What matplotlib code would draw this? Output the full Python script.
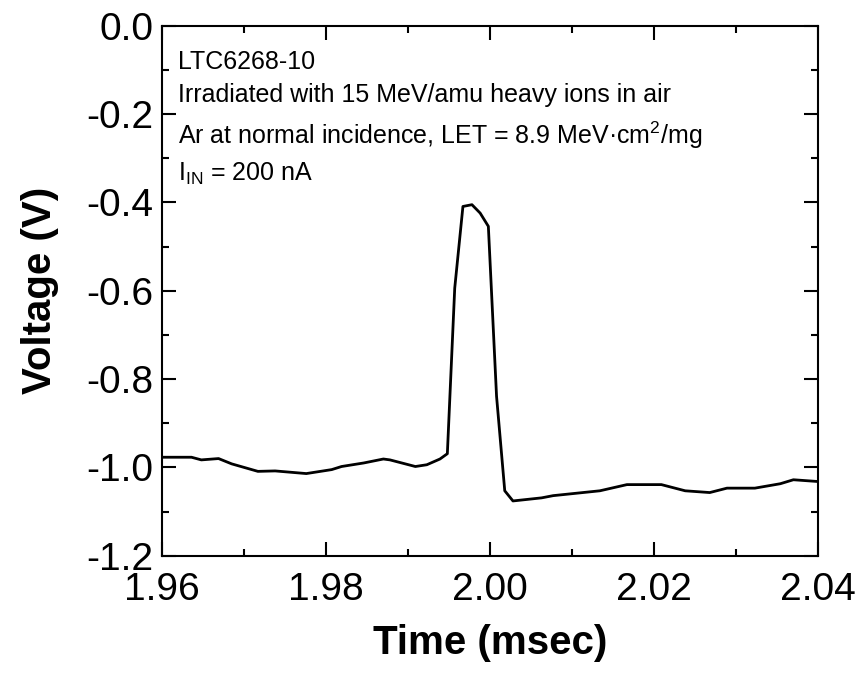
import matplotlib.pyplot as plt
from matplotlib.ticker import MultipleLocator, FormatStrFormatter

plt.rcParams['font.family'] = ['Liberation Sans', 'DejaVu Sans']
plt.rcParams['mathtext.fontset'] = 'custom'
plt.rcParams['mathtext.rm'] = 'Liberation Sans'

# transient trace
time_ms = [1.9600, 1.9636, 1.9648, 1.9669, 1.9685, 1.9717, 1.9738, 1.9776,
           1.9807, 1.9819, 1.9846, 1.9870, 1.9878, 1.9909, 1.9923, 1.9939,
           1.9948, 1.9957, 1.9967, 1.9978, 1.9988, 1.9998, 2.0008, 2.0018,
           2.0028, 2.0063, 2.0077, 2.0134, 2.0167, 2.0209, 2.0238, 2.0268,
           2.0289, 2.0323, 2.0354, 2.0370, 2.0400]
voltage = [-0.977, -0.977, -0.983, -0.980, -0.992, -1.009, -1.008, -1.014,
           -1.005, -0.998, -0.990, -0.981, -0.983, -0.998, -0.994, -0.981,
           -0.969, -0.594, -0.409, -0.405, -0.424, -0.454, -0.839, -1.053,
           -1.076, -1.069, -1.064, -1.053, -1.039, -1.039, -1.053, -1.057,
           -1.047, -1.047, -1.037, -1.028, -1.032]

notes = ["LTC6268-10",
         "Irradiated with 15 MeV/amu heavy ions in air",
         "Ar at normal incidence, LET = 8.9 MeV\u00b7cm$^2$/mg",
         "I$_{\\mathrm{IN}}$ = 200 nA"]

fig = plt.figure(figsize=(8.57, 6.81), dpi=100)
ax = fig.add_axes([0.189, 0.184, 0.7655, 0.778])
ax.plot(time_ms, voltage, color='black', linewidth=2)

ax.set_xlim(1.96, 2.04)
ax.set_ylim(-1.2, 0.0)
ax.xaxis.set_major_locator(MultipleLocator(0.02))
ax.xaxis.set_minor_locator(MultipleLocator(0.01))
ax.yaxis.set_major_locator(MultipleLocator(0.2))
ax.yaxis.set_minor_locator(MultipleLocator(0.1))
ax.xaxis.set_major_formatter(FormatStrFormatter('%.2f'))
ax.yaxis.set_major_formatter(FormatStrFormatter('%.1f'))
ax.tick_params(which='both', direction='in', top=True, right=True, width=1.5)
ax.tick_params(which='major', length=10, labelsize=28)
ax.tick_params(axis='x', which='major', pad=12)
ax.tick_params(axis='y', which='major', pad=6)
ax.tick_params(which='minor', length=5)
for s in ax.spines.values():
    s.set_linewidth(1.5)

ax.set_xlabel("Time (msec)", fontsize=29, fontweight='bold', labelpad=11)
ax.set_ylabel("Voltage (V)", fontsize=29, fontweight='bold', labelpad=20)

ax.text(0.025, 0.955, "\n".join(notes), transform=ax.transAxes,
        fontsize=18, va='top', ha='left', linespacing=1.5)

fig.savefig("out.png", dpi=100)
